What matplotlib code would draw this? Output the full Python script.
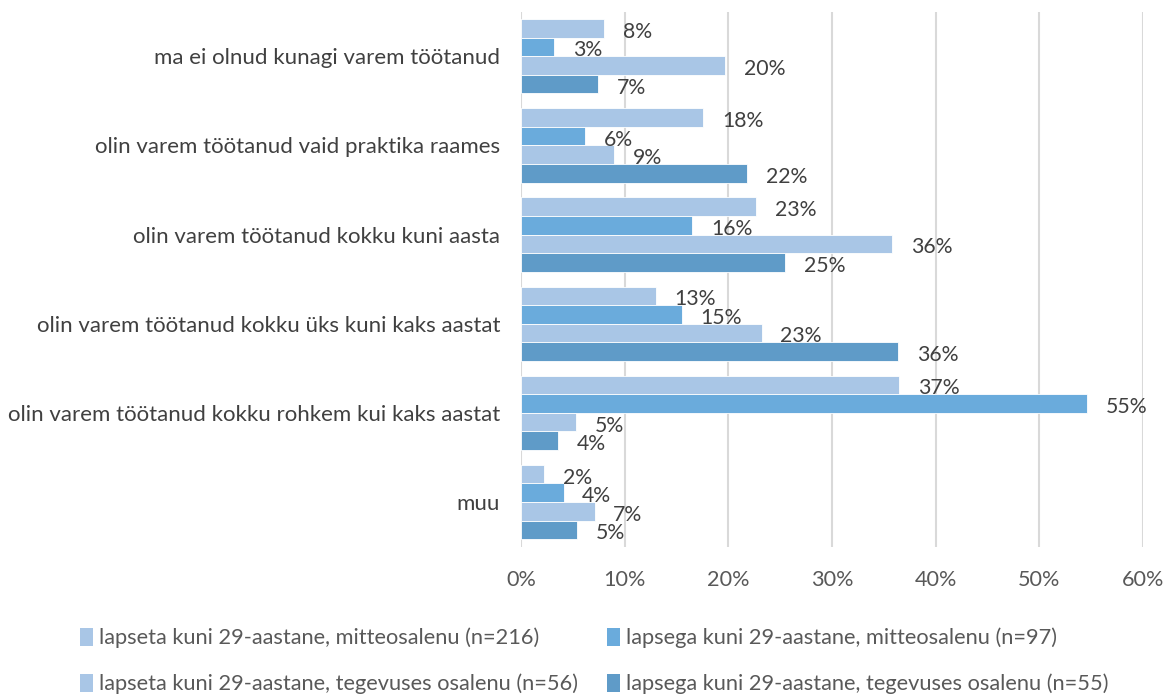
import matplotlib
matplotlib.use("Agg")
import matplotlib.pyplot as plt
import numpy as np
from matplotlib.patches import Patch

plt.rcParams['font.family'] = ['Lato', 'DejaVu Sans']

categories = [
    "ma ei olnud kunagi varem töötanud",
    "olin varem töötanud vaid praktika raames",
    "olin varem töötanud kokku kuni aasta",
    "olin varem töötanud kokku üks kuni kaks aastat",
    "olin varem töötanud kokku rohkem kui kaks aastat",
    "muu",
]
series_names = [
    "lapseta kuni 29-aastane, mitteosalenu (n=216)",
    "lapsega kuni 29-aastane, mitteosalenu (n=97)",
    "lapseta kuni 29-aastane, tegevuses osalenu (n=56)",
    "lapsega kuni 29-aastane, tegevuses osalenu (n=55)",
]
s1 = [8.0, 17.6, 22.7, 13.0, 36.5, 2.2]
s2 = [3.2, 6.2, 16.5, 15.5, 54.6, 4.1]
s3 = [19.7, 9.0, 35.8, 23.2, 5.3, 7.1]
s4 = [7.4, 21.8, 25.5, 36.4, 3.6, 5.4]
labels1 = ["8%", "18%", "23%", "13%", "37%", "2%"]
labels2 = ["3%", "6%", "16%", "15%", "55%", "4%"]
labels3 = ["20%", "9%", "36%", "23%", "5%", "7%"]
labels4 = ["7%", "22%", "25%", "36%", "4%", "5%"]
xticks = [0, 10, 20, 30, 40, 50, 60]

colors = ["#A9C6E6", "#6AABDC", "#A9C6E6", "#5F9BC8"]
series = [s1, s2, s3, s4]
labels = [labels1, labels2, labels3, labels4]

FS = 16

fig = plt.figure(figsize=(11.67, 7.0), dpi=100)
ax = fig.add_axes([521/1167, 1-546.6/700, (1143-521)/1167, (546.6-11.6)/700])

n = len(categories)
y = np.arange(n)
h = 1/4.8
for k, (vals, col, labs) in enumerate(zip(series, colors, labels)):
    pos = y + (k - 1.5) * h
    ax.barh(pos, vals, height=h, color=col, edgecolor="white", linewidth=0.6, zorder=3)
    for p, v, t in zip(pos, vals, labs):
        ax.annotate(t, (v, p), xytext=(13.5, -2.5), textcoords="offset points",
                    ha="left", va="center", fontsize=15.3, color="#404040", zorder=4)

ax.set_xlim(0, 60)
ax.set_ylim(n - 0.5, -0.5)
ax.set_xticks(xticks)
ax.set_xticklabels([f"{t}%" for t in xticks], fontsize=15.6, color="#595959")
ax.set_yticks(y)
ax.set_yticklabels(categories, fontsize=FS, color="#404040")
ax.tick_params(axis="y", length=0, pad=15)
ax.tick_params(axis="x", length=0, pad=17)
ax.grid(axis="x", color="#D9D9D9", linewidth=1.5, zorder=0)
for s in ax.spines.values():
    s.set_visible(False)

handles = [Patch(facecolor=c, edgecolor="none") for c in colors]
order = [0, 2, 1, 3]
leg = fig.legend([handles[i] for i in order], [series_names[i] for i in order],
                 ncol=2, loc="upper left", bbox_to_anchor=(60/1167, 1-608/700),
                 frameon=False, fontsize=15.7, handlelength=0.6, handleheight=0.9,
                 handletextpad=0.3, columnspacing=1.3, labelspacing=1.17)
for t in leg.get_texts():
    t.set_color("#595959")

fig.savefig("out.png", dpi=100)
